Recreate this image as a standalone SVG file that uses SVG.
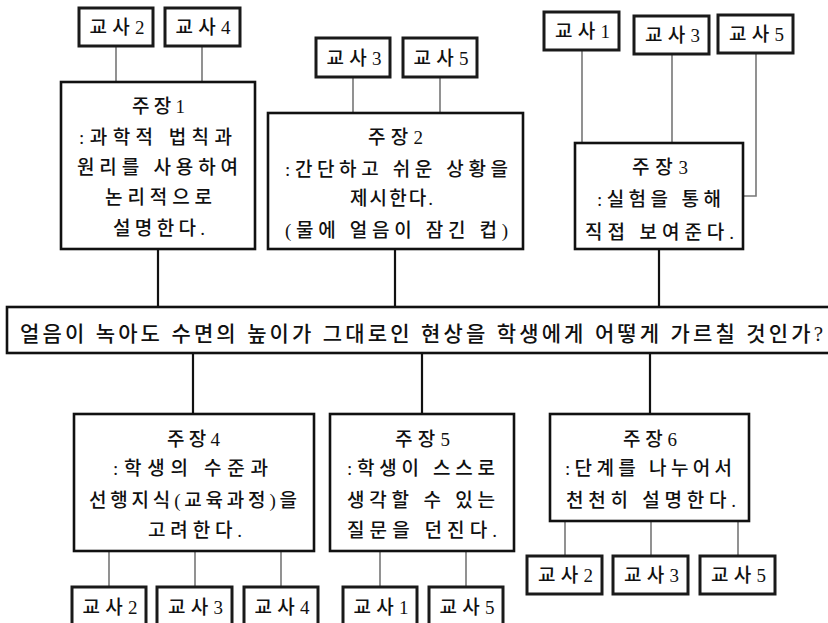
<svg xmlns="http://www.w3.org/2000/svg" width="828" height="623" viewBox="0 0 828 623">
<style>
.box{fill:#fff;stroke:#111;stroke-width:2.6}
.tbox{fill:#fff;stroke:#1a1a1a;stroke-width:3}
.conn{stroke:#111;stroke-width:2.2;fill:none}
.tconn{stroke:#777;stroke-width:1.6;fill:none}
text{font-family:"Liberation Serif","Noto Sans CJK KR",serif;font-size:19px;font-weight:500;fill:#111;text-anchor:middle}
.q{font-size:21px}
</style>
<rect width="828" height="623" fill="#fff"/>
<g id="connectors">
<path class="conn" d="M158 249V307M395 249V307M659 249V307M193 353V414M422 353V414M650 353V414"/>
<path class="tconn" d="M116 46V82M202 46V82M353 77V113M440 77V113M582 50V143M672 54V143M756 53V196H743"/>
<path class="tconn" d="M109 551V587M195 551V587M281 551V587M380 551V587M466 551V587M565 521V556M651 521V556M738 521V556"/>
</g>
<g id="question">
<rect class="box" x="7" y="307" width="824" height="46"/>
<text class="q" x="421.5" y="340.5" textLength="803" lengthAdjust="spacing">얼음이 녹아도 수면의 높이가 그대로인 현상을 학생에게 어떻게 가르칠 것인가?</text>
</g>
<g id="claim1">
<rect class="box" x="61" y="82" width="194" height="167"/>
<text x="158.5" y="113" textLength="53" lengthAdjust="spacing">주장1</text>
<text x="155.5" y="144" textLength="153" lengthAdjust="spacing">:과학적 법칙과</text>
<text x="157.5" y="174" textLength="161" lengthAdjust="spacing">원리를 사용하여</text>
<text x="158.5" y="204" textLength="107" lengthAdjust="spacing">논리적으로</text>
<text x="159" y="235" textLength="92" lengthAdjust="spacing">설명한다.</text>
</g>
<g id="claim2">
<rect class="box" x="268" y="113" width="255" height="136"/>
<text x="395.5" y="144" textLength="55" lengthAdjust="spacing">주장2</text>
<text x="396.5" y="176" textLength="223" lengthAdjust="spacing">:간단하고 쉬운 상황을</text>
<text x="391.5" y="205" textLength="83" lengthAdjust="spacing">제시한다.</text>
<text x="396.5" y="237" textLength="223" lengthAdjust="spacing">(물에 얼음이 잠긴 컵)</text>
</g>
<g id="claim3">
<rect class="box" x="575" y="143" width="168" height="106"/>
<text x="660" y="174" textLength="56" lengthAdjust="spacing">주장3</text>
<text x="659" y="206" textLength="124" lengthAdjust="spacing">:실험을 통해</text>
<text x="659.5" y="239" textLength="149" lengthAdjust="spacing">직접 보여준다.</text>
</g>
<g id="claim4">
<rect class="box" x="74" y="414" width="240" height="137"/>
<text x="193.5" y="446" textLength="53" lengthAdjust="spacing">주장4</text>
<text x="190.5" y="475" textLength="155" lengthAdjust="spacing">:학생의 수준과</text>
<text x="193" y="507" textLength="208" lengthAdjust="spacing">선행지식(교육과정)을</text>
<text x="195" y="537" textLength="94" lengthAdjust="spacing">고려한다.</text>
</g>
<g id="claim5">
<rect class="box" x="330" y="414" width="184" height="137"/>
<text x="422.5" y="446" textLength="55" lengthAdjust="spacing">주장5</text>
<text x="421" y="475" textLength="148" lengthAdjust="spacing">:학생이 스스로</text>
<text x="421" y="507" textLength="148" lengthAdjust="spacing">생각할 수 있는</text>
<text x="422" y="537" textLength="150" lengthAdjust="spacing">질문을 던진다.</text>
</g>
<g id="claim6">
<rect class="box" x="550" y="414" width="199" height="107"/>
<text x="650" y="446" textLength="54" lengthAdjust="spacing">주장6</text>
<text x="648.5" y="475" textLength="167" lengthAdjust="spacing">:단계를 나누어서</text>
<text x="651" y="507" textLength="170" lengthAdjust="spacing">천천히 설명한다.</text>
</g>
<g id="t1-2"><rect class="tbox" x="79" y="8" width="74" height="38"/><text x="117" y="34" textLength="55" lengthAdjust="spacing">교사2</text></g>
<g id="t1-4"><rect class="tbox" x="165" y="8" width="75" height="38"/><text x="203" y="34" textLength="55" lengthAdjust="spacing">교사4</text></g>
<g id="t2-3"><rect class="tbox" x="316" y="38" width="74" height="39"/><text x="354" y="64.5" textLength="55" lengthAdjust="spacing">교사3</text></g>
<g id="t2-5"><rect class="tbox" x="403" y="38" width="74" height="39"/><text x="441" y="64.5" textLength="55" lengthAdjust="spacing">교사5</text></g>
<g id="t3-1"><rect class="tbox" x="544" y="12" width="75" height="38"/><text x="582.5" y="38" textLength="55" lengthAdjust="spacing">교사1</text></g>
<g id="t3-3"><rect class="tbox" x="634" y="16" width="75" height="38"/><text x="672.5" y="42" textLength="55" lengthAdjust="spacing">교사3</text></g>
<g id="t3-5"><rect class="tbox" x="718" y="15" width="75" height="38"/><text x="756.5" y="41" textLength="55" lengthAdjust="spacing">교사5</text></g>
<g id="t4-2"><rect class="tbox" x="72" y="587" width="74" height="45"/><text x="110" y="614" textLength="55" lengthAdjust="spacing">교사2</text></g>
<g id="t4-3"><rect class="tbox" x="157" y="587" width="75" height="45"/><text x="195.5" y="614" textLength="55" lengthAdjust="spacing">교사3</text></g>
<g id="t4-4"><rect class="tbox" x="244" y="587" width="74" height="45"/><text x="282" y="614" textLength="55" lengthAdjust="spacing">교사4</text></g>
<g id="t5-1"><rect class="tbox" x="343" y="587" width="74" height="45"/><text x="381" y="614" textLength="55" lengthAdjust="spacing">교사1</text></g>
<g id="t5-5"><rect class="tbox" x="429" y="587" width="74" height="45"/><text x="467" y="614" textLength="55" lengthAdjust="spacing">교사5</text></g>
<g id="t6-2"><rect class="tbox" x="527" y="556" width="75" height="38"/><text x="565.5" y="582" textLength="55" lengthAdjust="spacing">교사2</text></g>
<g id="t6-3"><rect class="tbox" x="613" y="556" width="75" height="38"/><text x="651.5" y="582" textLength="55" lengthAdjust="spacing">교사3</text></g>
<g id="t6-5"><rect class="tbox" x="700" y="556" width="75" height="38"/><text x="738.5" y="582" textLength="55" lengthAdjust="spacing">교사5</text></g>
</svg>
